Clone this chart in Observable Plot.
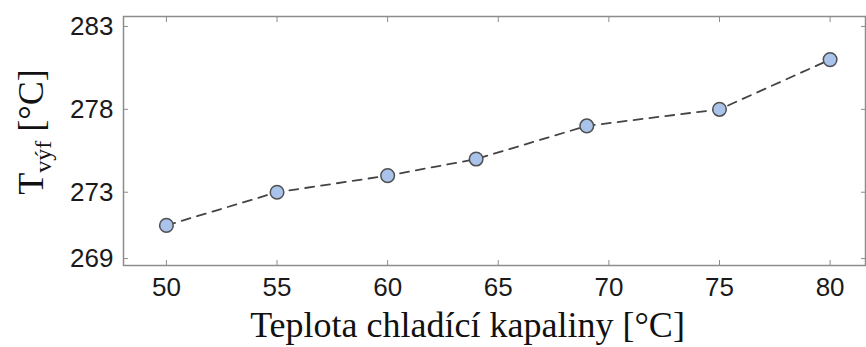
<!DOCTYPE html>
<html><head><meta charset="utf-8">
<script src="https://cdn.jsdelivr.net/npm/d3@7"></script>
<script src="https://cdn.jsdelivr.net/npm/@observablehq/plot@0.6"></script>
<style>body{margin:0;background:#fff}</style>
</head><body><div id="chart"></div>
<script>
const coolantTemp = [50, 55, 60, 64, 69, 75, 80];
const exhaustTemp = [271, 273, 274, 275, 277, 278, 281];
const xTicks = [50, 55, 60, 65, 70, 75, 80];
const yTicks = [269, 273, 278, 283];
const xLabel = "Teplota chladící kapaliny [°C]";
const yLabelMain = "T";
const yLabelSub = "výf";
const yLabelUnit = " [°C]";

const data = coolantTemp.map((x, i) => ({x, y: exhaustTemp[i]}));
const axisColor = "#8c8c8c";

const plot = Plot.plot({
  width: 866, height: 347,
  marginLeft: 123, marginRight: 1, marginTop: 16, marginBottom: 82,
  style: {fontFamily: "'Liberation Sans', Arial, sans-serif", fontSize: "26px", color: "#1a1a1a", background: "#fff"},
  x: {domain: [48.06, 81.6]},
  y: {domain: [268.58, 283.6]},
  marks: [
    Plot.frame({stroke: axisColor, strokeWidth: 1.5}),
    Plot.axisX(xTicks, {anchor: "bottom", tickSize: -5, tickPadding: 17, stroke: axisColor, fill: "#1a1a1a", label: null}),
    Plot.axisX(xTicks, {anchor: "top", tickSize: -5, text: null, stroke: axisColor, label: null}),
    Plot.axisY(yTicks, {anchor: "left", tickSize: -5, tickPadding: 15, stroke: axisColor, fill: "#1a1a1a", label: null}),
    Plot.axisY(yTicks, {anchor: "right", tickSize: -5, text: null, stroke: axisColor, label: null}),
    Plot.line(data, {x: "x", y: "y", stroke: "#444", strokeWidth: 1.8, strokeDasharray: "9,7"}),
    Plot.dot(data, {x: "x", y: "y", r: 6.8, fill: "#a9c3ea", stroke: "#505050", strokeWidth: 1.5}),
    Plot.text([xLabel], {frameAnchor: "bottom", dy: 71, dx: -27, text: d => d, fontFamily: "'Liberation Serif', 'Times New Roman', serif", fontSize: 36, fill: "#111"})
  ]
});

document.getElementById("chart").appendChild(plot);

// Y-axis title with subscript
const svg = d3.select(plot);
const t = svg.append("text")
  .attr("transform", "translate(43,132) rotate(-90)")
  .attr("text-anchor", "middle")
  .attr("font-family", "'Liberation Serif', 'Times New Roman', serif")
  .attr("font-size", 36)
  .attr("fill", "#111");
t.append("tspan").text(yLabelMain);
t.append("tspan").attr("font-size", 24).attr("dy", 8).text(yLabelSub);
t.append("tspan").attr("dy", -8).text(yLabelUnit);
</script>
</body></html>
